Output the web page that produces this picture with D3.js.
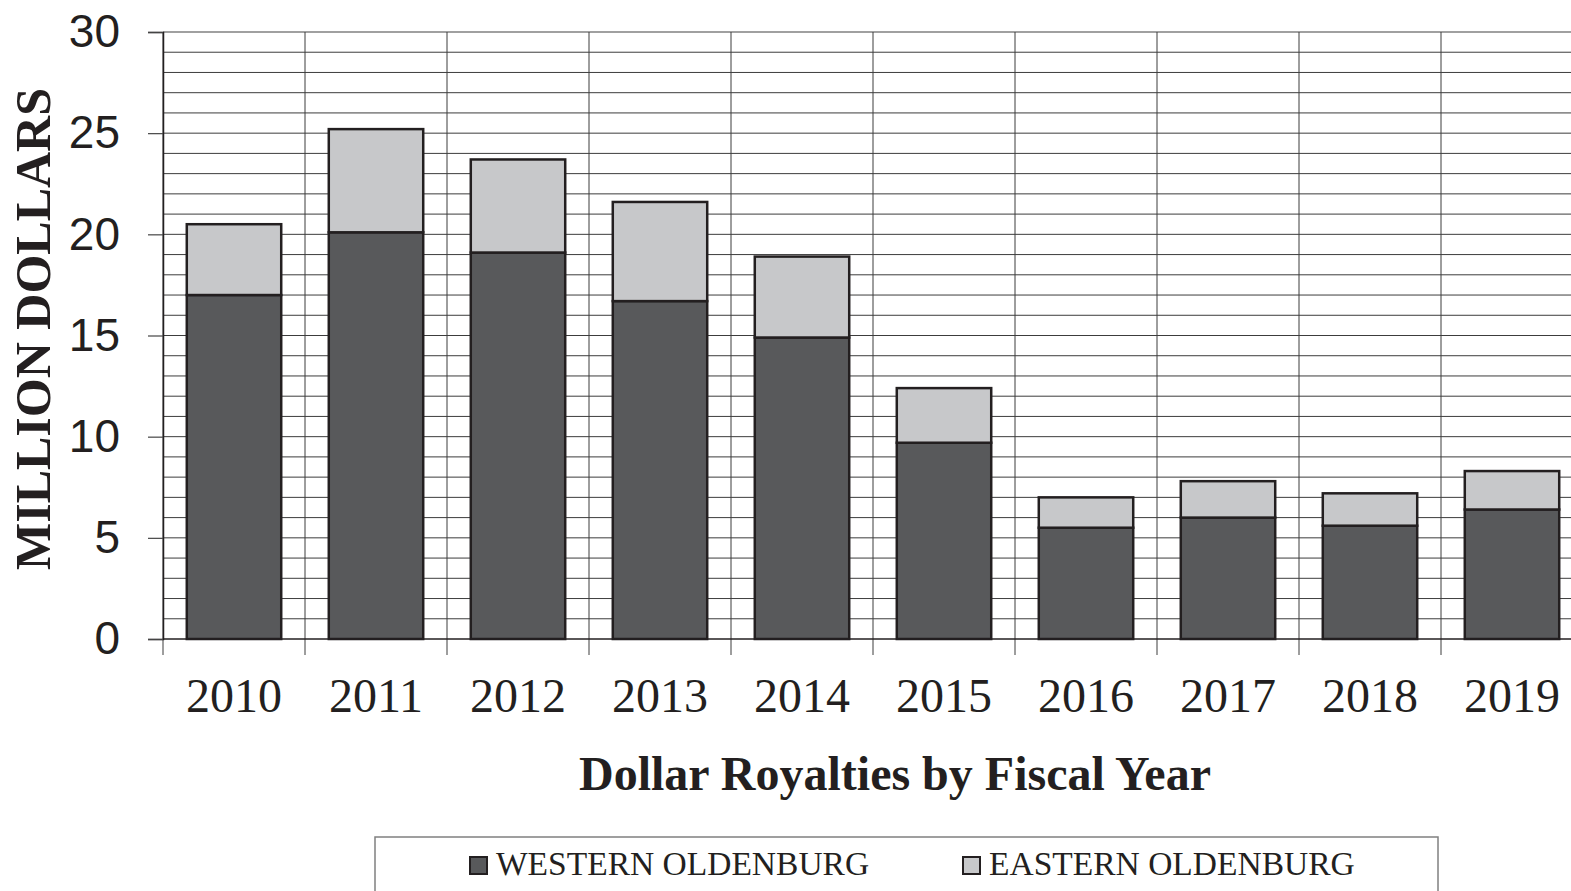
<!DOCTYPE html>
<html>
<head>
<meta charset="utf-8">
<script src="https://cdn.jsdelivr.net/npm/d3@7"></script>
<style>
  body { margin: 0; background: #fff; }
  svg { display: block; }
</style>
</head>
<body>
<div class="chart"></div>
<script>
// data (million dollars)
var years = ["2010", "2011", "2012", "2013", "2014", "2015", "2016", "2017", "2018", "2019"];
var western = [17.0, 20.1, 19.1, 16.7, 14.9, 9.7, 5.5, 6.0, 5.6, 6.4];
var eastern = [3.5, 5.1, 4.6, 4.9, 4.0, 2.7, 1.5, 1.8, 1.6, 1.9];
var seriesNames = ["WESTERN OLDENBURG", "EASTERN OLDENBURG"];
var yTicks = [0, 5, 10, 15, 20, 25, 30];

var colours = ["#58595b", "#c7c8ca"];
var ink = "#231f20";

var W = 1571, H = 891;
var margins = { top: 32, left: 163, bottom: 252 };
var bandStep = 142;
var width = bandStep * years.length;
var height = H - margins.top - margins.bottom;

var table = years.map(function (y, i) {
    return { year: y, west: western[i], east: eastern[i] };
});
var stacked = d3.stack().keys(["west", "east"])(table);

var svg = d3.select('.chart')
    .append('svg')
    .attr('width', W)
    .attr('height', H);

var g = svg.append('g')
    .attr('transform', 'translate(' + margins.left + ',' + margins.top + ')');

var xScale = d3.scaleBand()
    .domain(years)
    .range([0, width])
    .paddingInner(0.335)
    .paddingOuter(0.1675);

var yScale = d3.scaleLinear()
    .domain([0, 30])
    .range([height, 0]);

// horizontal grid, one line per unit
g.append('g')
    .selectAll('line')
    .data(d3.range(1, 31))
    .enter()
    .append('line')
    .attr('x1', 0)
    .attr('x2', width)
    .attr('y1', function (d) { return yScale(d); })
    .attr('y2', function (d) { return yScale(d); })
    .attr('stroke', function (d) { return d === 30 ? '#a0a0a0' : '#3c3c3c'; })
    .attr('stroke-width', function (d) { return d === 30 ? 2 : 1; });

// vertical grid at category boundaries
var bounds = d3.range(0, years.length + 1).map(function (i) { return i * bandStep; });
g.append('g')
    .selectAll('line')
    .data(bounds)
    .enter()
    .append('line')
    .attr('x1', function (d) { return d; })
    .attr('x2', function (d) { return d; })
    .attr('y1', 0)
    .attr('y2', height + 16)
    .attr('stroke', '#3c3c3c')
    .attr('stroke-width', 1);

// y axis
var yAxis = d3.axisLeft(yScale)
    .tickValues(yTicks)
    .tickSize(15)
    .tickPadding(28);

var yg = g.append('g').call(yAxis);
yg.select('.domain').attr('stroke', ink).attr('stroke-width', 1.5);
yg.selectAll('.tick line').attr('stroke', '#444').attr('stroke-width', 1.2);
yg.selectAll('text')
    .attr('fill', ink)
    .style('font-family', '"Liberation Sans", Arial, sans-serif')
    .style('font-size', '46px');

// bars
var groups = g.selectAll('g.series')
    .data(stacked)
    .enter()
    .append('g')
    .attr('class', 'series')
    .style('fill', function (d, i) { return colours[i]; });

groups.selectAll('rect')
    .data(function (d) { return d; })
    .enter()
    .append('rect')
    .attr('x', function (d) { return xScale(d.data.year); })
    .attr('y', function (d) { return yScale(d[1]); })
    .attr('width', xScale.bandwidth())
    .attr('height', function (d) { return yScale(d[0]) - yScale(d[1]); })
    .attr('stroke', ink)
    .attr('stroke-width', 2.5);

// bottom axis line
g.append('line')
    .attr('x1', 0)
    .attr('x2', width)
    .attr('y1', height)
    .attr('y2', height)
    .attr('stroke', ink)
    .attr('stroke-width', 1.5);

// x labels
var xAxis = d3.axisBottom(xScale).tickSize(0).tickPadding(0);
var xg = g.append('g')
    .attr('transform', 'translate(0,' + height + ')')
    .call(xAxis);
xg.select('.domain').remove();
xg.selectAll('text')
    .attr('dy', null)
    .attr('y', 73)
    .attr('fill', ink)
    .style('font-family', '"Liberation Serif", "Times New Roman", serif')
    .style('font-size', '48px');

// titles
svg.append('text')
    .attr('x', 895)
    .attr('y', 790)
    .attr('text-anchor', 'middle')
    .attr('fill', ink)
    .style('font-family', '"Liberation Serif", "Times New Roman", serif')
    .style('font-weight', 'bold')
    .style('font-size', '48px')
    .text('Dollar Royalties by Fiscal Year');

svg.append('text')
    .attr('transform', 'translate(50,329) rotate(-90)')
    .attr('text-anchor', 'middle')
    .attr('fill', ink)
    .style('font-family', '"Liberation Serif", "Times New Roman", serif')
    .style('font-weight', 'bold')
    .style('font-size', '50px')
    .text('MILLION DOLLARS');

// legend
svg.append('rect')
    .attr('x', 375)
    .attr('y', 837)
    .attr('width', 1063)
    .attr('height', 80)
    .attr('fill', 'none')
    .attr('stroke', '#808080')
    .attr('stroke-width', 1.5);

var legendX = [470, 963];
seriesNames.forEach(function (s, i) {
    svg.append('rect')
        .attr('x', legendX[i])
        .attr('y', 857)
        .attr('width', 17)
        .attr('height', 17)
        .attr('fill', colours[i])
        .attr('stroke', ink)
        .attr('stroke-width', 2);
    svg.append('text')
        .attr('x', legendX[i] + 26)
        .attr('y', 875)
        .attr('fill', ink)
        .style('font-family', '"Liberation Serif", "Times New Roman", serif')
        .style('font-size', '33.5px')
        .text(s);
});
</script>
</body>
</html>
